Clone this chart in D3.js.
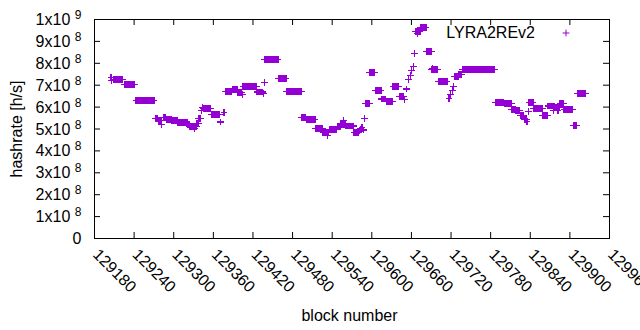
<!DOCTYPE html>
<html>
<head>
<meta charset="utf-8">
<script src="https://cdn.jsdelivr.net/npm/d3@7"></script>
<style>
  html, body { margin: 0; padding: 0; background: #fff; }
  svg { display: block; }
  text { font-family: "Liberation Sans", Arial, sans-serif; fill: #000; }
</style>
</head>
<body>
<svg id="chart" width="640" height="330"></svg>
<script>
// ---- data (runs of consecutive blocks sharing one hashrate estimate) ----
const runStart = [
  129205,129206,129209,129225,129243,129272,129277,129281,129284,129289,129297,129306,129321,129324,129331,
  129335,129338,129342,129344,129345,129357,129371,129376,129379,129389,129397,129404,129405,129426,129436,
  129437,129438,129459,129471,129494,129501,129515,129526,129533,129536,129548,129553,129557,129561,129573,
  129581,129583,129585,129587,129589,129591,129597,129605,129615,129622,129632,129642,129650,129653,129656,
  129658,129660,129663,129665,129666,129669,129674,129683,129691,129692,129701,129717,129719,129722,129724,
  129725,129732,129737,129787,129801,129812,129818,129825,129831,129835,129837,129838,129845,129859,129867,
  129875,129877,129882,129885,129891,129905,129912
];
const runEnd = [
  129205,129206,129223,129241,129270,129276,129282,129281,129288,129296,129305,129320,129323,129334,129331,
  129337,129341,129342,129344,129356,129369,129371,129376,129388,129396,129403,129404,129425,129435,129436,
  129437,129458,129470,129493,129500,129514,129525,129535,129533,129547,129552,129560,129557,129572,129580,
  129581,129583,129585,129587,129589,129596,129604,129614,129621,129631,129641,129648,129650,129653,129656,
  129658,129660,129663,129665,129673,129669,129682,129690,129700,129692,129714,129717,129719,129722,129724,
  129731,129736,129786,129800,129811,129817,129824,129830,129834,129835,129837,129844,129858,129866,129876,
  129875,129884,129882,129890,129904,129910,129924
];
const hashrate = [
  7.35e8,7.20e8,7.26e8,7.04e8,6.30e8,5.48e8,5.37e8,5.22e8,5.54e8,5.43e8,5.39e8,5.30e8,5.22e8,5.13e8,5.04e8,
  5.26e8,5.49e8,5.86e8,5.98e8,5.92e8,5.66e8,5.32e8,5.75e8,6.71e8,6.79e8,6.67e8,6.59e8,6.94e8,6.69e8,6.63e8,
  7.12e8,8.17e8,7.31e8,6.71e8,5.52e8,5.45e8,5.01e8,4.85e8,4.72e8,4.98e8,5.13e8,5.22e8,5.39e8,5.14e8,4.85e8,
  4.91e8,5.00e8,5.07e8,4.95e8,5.48e8,6.18e8,7.58e8,6.76e8,6.37e8,6.27e8,6.94e8,6.47e8,6.36e8,6.83e8,7.26e8,
  7.46e8,7.68e8,7.84e8,8.45e8,9.45e8,9.37e8,9.63e8,8.54e8,7.71e8,7.78e8,7.16e8,6.39e8,6.58e8,6.74e8,6.95e8,
  7.40e8,7.50e8,7.72e8,6.21e8,6.16e8,5.89e8,5.83e8,5.61e8,5.45e8,5.34e8,5.81e8,6.21e8,5.94e8,5.62e8,6.05e8,
  5.86e8,6.00e8,5.86e8,6.16e8,5.89e8,5.16e8,6.61e8
];
const seriesName = "LYRA2REv2";
const xTicks = [129180,129240,129300,129360,129420,129480,129540,129600,129660,129720,129780,129840,129900,129960];
const yTicks = [0,1e8,2e8,3e8,4e8,5e8,6e8,7e8,8e8,9e8,1e9];
const yTickMantissa = ["0","1x10","2x10","3x10","4x10","5x10","6x10","7x10","8x10","9x10","1x10"];
const yTickExponent = ["","8","8","8","8","8","8","8","8","8","9"];
const xTitle = "block number";
const yTitle = "hashrate [h/s]";

// ---- layout ----
const color = "#9400d3";
const svg = d3.select("#chart");
const L = 94, R = 609, T = 19, B = 238;
const x = d3.scaleLinear().domain([129180, 129960]).range([L, R]);
const y = d3.scaleLinear().domain([0, 1e9]).range([B, T]);

// expand runs into per-block points
const points = [];
runStart.forEach((s, i) => {
  for (let b = s; b <= runEnd[i]; b++) points.push({ b: b, v: hashrate[i] });
});

// axes (ticks inward, mirrored)
const tick = 6;
const gBottom = svg.append("g").attr("transform", `translate(0,${B})`)
  .call(d3.axisBottom(x).tickValues(xTicks).tickSize(-tick).tickFormat(d3.format("d")));
const gTop = svg.append("g").attr("transform", `translate(0,${T})`)
  .call(d3.axisTop(x).tickValues(xTicks).tickSize(-tick).tickFormat(""));
const gLeft = svg.append("g").attr("transform", `translate(${L},0)`)
  .call(d3.axisLeft(y).tickValues(yTicks).tickSize(-tick).tickFormat(""));
const gRight = svg.append("g").attr("transform", `translate(${R},0)`)
  .call(d3.axisRight(y).tickValues(yTicks).tickSize(-tick).tickFormat(""));

[gBottom, gTop, gLeft, gRight].forEach(g => {
  g.select(".domain").remove();
  g.selectAll(".tick line").attr("stroke", "#000").attr("stroke-width", 1);
  g.attr("font-family", null).attr("font-size", null);
});

// x tick labels rotated
gBottom.selectAll(".tick text")
  .attr("x", 0).attr("y", 0).attr("dy", null)
  .attr("text-anchor", "start")
  .style("font-size", "16px")
  .attr("transform", "translate(-2.5,17.5) rotate(45)");

// y tick labels with superscript exponents
gLeft.selectAll(".tick text").remove();
gLeft.selectAll(".tick").each(function(d, i) {
  const t = d3.select(this).append("text")
    .attr("x", -12.5).attr("y", 5.5)
    .attr("text-anchor", "end")
    .style("font-size", "16px");
  t.append("tspan").text(yTickMantissa[i]);
  if (yTickExponent[i]) {
    t.append("tspan").attr("dx", 4.5).attr("dy", -6)
      .style("font-size", "12px").text(yTickExponent[i]);
  }
});

// frame
svg.append("rect")
  .attr("x", L + 0.5).attr("y", T + 0.5)
  .attr("width", R - L).attr("height", B - T)
  .attr("fill", "none").attr("stroke", "#000").attr("stroke-width", 1);

// points (gnuplot "+" markers)
const h = 3.4;
const plus = (cx, cy) => `M${cx - h},${cy}H${cx + h}M${cx},${cy - h}V${cy + h}`;
svg.append("g").attr("class", "series")
  .attr("shape-rendering", "crispEdges")
  .selectAll("path")
  .data(points)
  .join("path")
  .attr("d", d => plus(x(d.b) + 0.5, y(d.v) + 0.5))
  .attr("fill", "none")
  .attr("stroke", color)
  .attr("stroke-width", 1.2);

// legend
svg.append("text")
  .attr("x", 535).attr("y", 37.5)
  .attr("text-anchor", "end")
  .style("font-size", "16px")
  .text(seriesName);
svg.append("path")
  .attr("d", plus(566, 33))
  .attr("fill", "none").attr("stroke", color).attr("stroke-width", 1);

// axis titles
svg.append("text")
  .attr("x", 349.5).attr("y", 321)
  .attr("text-anchor", "middle")
  .style("font-size", "16px")
  .text(xTitle);
svg.append("text")
  .attr("transform", "translate(21.5,129) rotate(-90)")
  .attr("text-anchor", "middle")
  .style("font-size", "16px")
  .text(yTitle);
</script>
</body>
</html>
